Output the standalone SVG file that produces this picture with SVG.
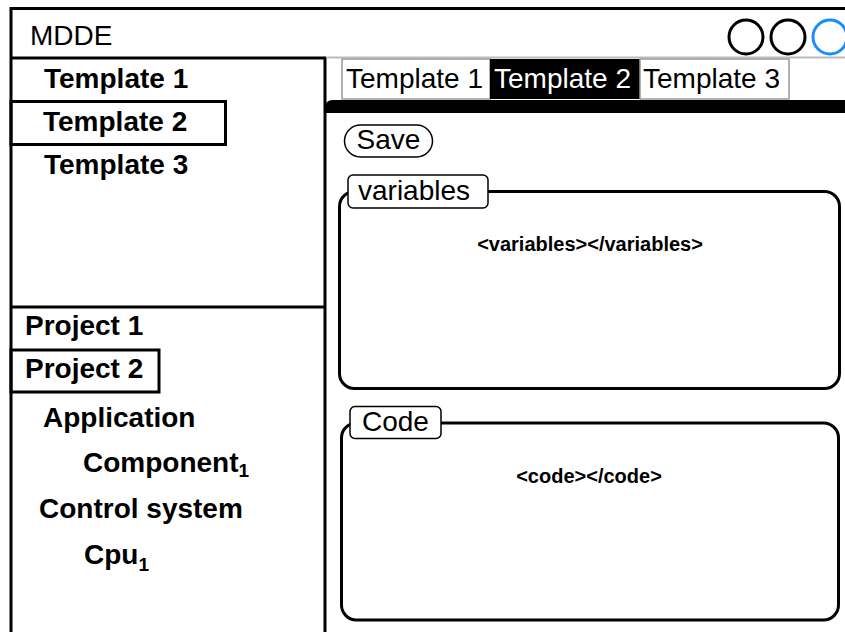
<svg xmlns="http://www.w3.org/2000/svg" width="845" height="632" viewBox="0 0 845 632">
<style>
text{font-family:"Liberation Sans",Arial,sans-serif;fill:#000}
.b{font-weight:bold;font-size:28px}
.t{font-size:28px}
.r{font-size:28px}
.sub{font-size:19px}
.tabg{fill:#fff;stroke:#999;stroke-width:1.5}
.frame{fill:#fff;stroke:#000;stroke-width:3}
.lbl{fill:#fff;stroke:#000;stroke-width:1.5}
.code{font-weight:bold;font-size:20px}
</style>
<rect width="845" height="632" fill="#fff"/>
<g id="window">
<line x1="11" y1="8.5" x2="845" y2="8.5" stroke="#000" stroke-width="3"/>
<line x1="11" y1="7" x2="11" y2="632" stroke="#000" stroke-width="3"/>
<line x1="325" y1="57.5" x2="845" y2="57.5" stroke="#bbb" stroke-width="2"/>
<text class="r" x="30" y="45">MDDE</text>
</g>
<g id="window-buttons" fill="none" stroke-width="3">
<circle cx="746" cy="37" r="17" stroke="#000"/>
<circle cx="788" cy="37" r="17" stroke="#000"/>
<circle cx="830" cy="37" r="17" stroke="#1a8cff"/>
</g>
<g id="template-list">
<line x1="11" y1="58" x2="326" y2="58" stroke="#000" stroke-width="3"/>
<line x1="325" y1="58" x2="325" y2="632" stroke="#000" stroke-width="3"/>
<line x1="11" y1="307" x2="325" y2="307" stroke="#000" stroke-width="3"/>
<rect x="11" y="101.5" width="214.5" height="43" fill="none" stroke="#000" stroke-width="3"/>
<text class="b" x="44" y="88">Template 1</text>
<text class="b" x="43" y="131">Template 2</text>
<text class="b" x="44" y="174">Template 3</text>
</g>
<g id="project-tree">
<rect x="11" y="350" width="148" height="42" fill="none" stroke="#000" stroke-width="3"/>
<text class="b" x="25" y="335">Project 1</text>
<text class="b" x="25" y="378">Project 2</text>
<text class="b" x="43" y="427">Application</text>
<text class="b" x="83" y="472">Component<tspan class="sub" dy="5">1</tspan></text>
<text class="b" x="39" y="518">Control system</text>
<text class="b" x="84" y="564">Cpu<tspan class="sub" dy="7">1</tspan></text>
</g>
<g id="tabs">
<rect class="tabg" x="342" y="59" width="148" height="40"/>
<rect x="490" y="59" width="150" height="40" fill="#000"/>
<rect class="tabg" x="640" y="59" width="149" height="40"/>
<text class="t" x="346" y="88">Template 1</text>
<text class="t" x="494" y="88" style="fill:#fff">Template 2</text>
<text class="t" x="643" y="88">Template 3</text>
<path d="M325 113 V108 Q325 100 333 100 H845 V113 Z" fill="#000"/>
</g>
<g id="save">
<rect x="344.5" y="125" width="88" height="32" rx="16" fill="#fff" stroke="#000" stroke-width="1.5"/>
<text class="r" x="388.5" y="149" text-anchor="middle">Save</text>
</g>
<g id="variables">
<rect class="frame" x="339.5" y="191.5" width="500" height="197" rx="15"/>
<rect class="lbl" x="348" y="175" width="140" height="33" rx="5"/>
<text class="r" x="358" y="200">variables</text>
<text class="code" x="590" y="251" text-anchor="middle">&lt;variables&gt;&lt;/variables&gt;</text>
</g>
<g id="code">
<rect class="frame" x="341.5" y="423" width="497" height="197" rx="15"/>
<rect class="lbl" x="350" y="406.5" width="91" height="32" rx="5"/>
<text class="r" x="362" y="431">Code</text>
<text class="code" x="589" y="483" text-anchor="middle">&lt;code&gt;&lt;/code&gt;</text>
</g>
<g id="connectors"/>
</svg>
